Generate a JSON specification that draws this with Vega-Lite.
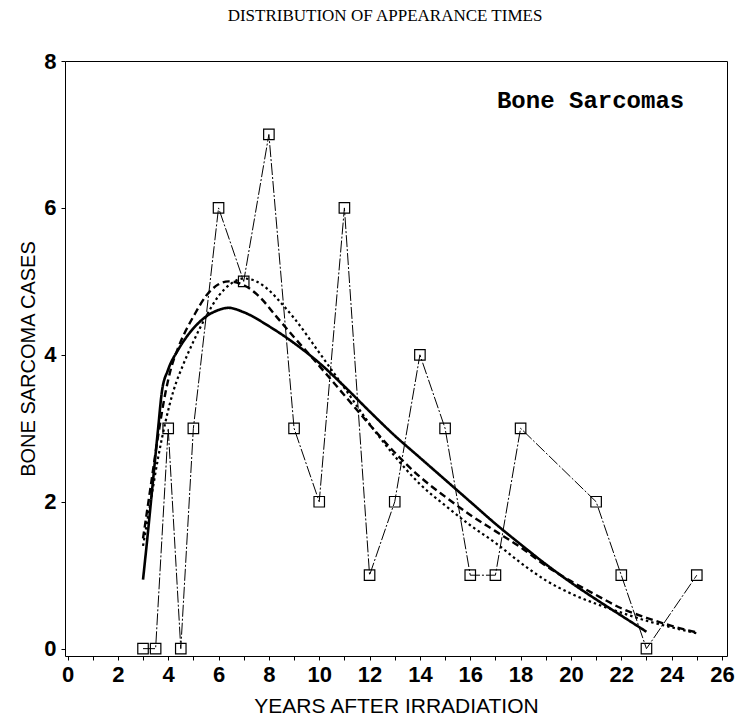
{
  "$schema": "https://vega.github.io/schema/vega-lite/v6.json",
  "width": 662,
  "height": 595,
  "autosize": {"type": "none"},
  "padding": {"left": 65, "top": 61, "right": 13, "bottom": 72},
  "background": "white",
  "title": {
    "text": "DISTRIBUTION OF APPEARANCE TIMES",
    "font": "Liberation Serif",
    "fontSize": 17,
    "fontWeight": "normal",
    "color": "black",
    "anchor": "middle",
    "dx": -11,
    "offset": 25
  },
  "config": {
    "view": {"stroke": "black", "strokeWidth": 1},
    "axis": {
      "domain": false,
      "grid": false,
      "tickColor": "black",
      "tickSize": 4,
      "labelColor": "black",
      "titleColor": "black",
      "labelFont": "Liberation Sans",
      "labelFontWeight": "bold",
      "labelFontSize": 22,
      "labelFlush": false,
      "labelOverlap": false,
      "titleFont": "Liberation Sans",
      "titleFontWeight": "normal",
      "titleFontSize": 21
    }
  },
  "datasets": {
    "observed": [
      {"year": 3, "cases": 0},
      {"year": 3.5, "cases": 0},
      {"year": 4, "cases": 3},
      {"year": 4.5, "cases": 0},
      {"year": 5, "cases": 3},
      {"year": 6, "cases": 6},
      {"year": 7, "cases": 5},
      {"year": 8, "cases": 7},
      {"year": 9, "cases": 3},
      {"year": 10, "cases": 2},
      {"year": 11, "cases": 6},
      {"year": 12, "cases": 1},
      {"year": 13, "cases": 2},
      {"year": 14, "cases": 4},
      {"year": 15, "cases": 3},
      {"year": 16, "cases": 1},
      {"year": 17, "cases": 1},
      {"year": 18, "cases": 3},
      {"year": 21, "cases": 2},
      {"year": 22, "cases": 1},
      {"year": 23, "cases": 0},
      {"year": 25, "cases": 1}
    ],
    "fits": [
      {"curve": "A", "year": 3.0, "value": 0.94},
      {"curve": "A", "year": 3.2, "value": 1.6},
      {"curve": "A", "year": 3.4, "value": 2.3},
      {"curve": "A", "year": 3.6, "value": 3.0},
      {"curve": "A", "year": 3.75, "value": 3.5},
      {"curve": "A", "year": 4.0, "value": 3.8},
      {"curve": "A", "year": 4.4, "value": 4.07},
      {"curve": "A", "year": 5.0, "value": 4.36},
      {"curve": "A", "year": 5.5, "value": 4.52},
      {"curve": "A", "year": 6.0, "value": 4.61},
      {"curve": "A", "year": 6.4, "value": 4.64},
      {"curve": "A", "year": 7.0, "value": 4.58},
      {"curve": "A", "year": 8.0, "value": 4.39},
      {"curve": "A", "year": 9.0, "value": 4.16},
      {"curve": "A", "year": 10.0, "value": 3.89},
      {"curve": "A", "year": 11.0, "value": 3.57},
      {"curve": "A", "year": 12.0, "value": 3.23},
      {"curve": "A", "year": 13.0, "value": 2.9},
      {"curve": "A", "year": 14.0, "value": 2.6},
      {"curve": "A", "year": 15.0, "value": 2.3},
      {"curve": "A", "year": 16.0, "value": 2.0},
      {"curve": "A", "year": 17.0, "value": 1.7},
      {"curve": "A", "year": 18.0, "value": 1.42},
      {"curve": "A", "year": 19.0, "value": 1.15},
      {"curve": "A", "year": 20.0, "value": 0.9},
      {"curve": "A", "year": 21.0, "value": 0.67},
      {"curve": "A", "year": 22.0, "value": 0.45},
      {"curve": "A", "year": 23.0, "value": 0.23},
      {"curve": "B", "year": 3.0, "value": 1.5},
      {"curve": "B", "year": 3.3, "value": 2.2},
      {"curve": "B", "year": 3.6, "value": 2.9},
      {"curve": "B", "year": 3.9, "value": 3.5},
      {"curve": "B", "year": 4.1, "value": 3.8},
      {"curve": "B", "year": 4.4, "value": 4.1},
      {"curve": "B", "year": 4.7, "value": 4.33},
      {"curve": "B", "year": 5.0, "value": 4.52},
      {"curve": "B", "year": 5.5, "value": 4.8},
      {"curve": "B", "year": 6.0, "value": 4.96},
      {"curve": "B", "year": 6.4, "value": 5.0},
      {"curve": "B", "year": 7.0, "value": 4.95},
      {"curve": "B", "year": 7.6, "value": 4.8},
      {"curve": "B", "year": 8.3, "value": 4.52},
      {"curve": "B", "year": 9.0, "value": 4.24},
      {"curve": "B", "year": 10.0, "value": 3.85},
      {"curve": "B", "year": 11.0, "value": 3.45},
      {"curve": "B", "year": 12.0, "value": 3.05},
      {"curve": "B", "year": 13.0, "value": 2.67},
      {"curve": "B", "year": 14.0, "value": 2.34},
      {"curve": "B", "year": 15.0, "value": 2.07},
      {"curve": "B", "year": 16.0, "value": 1.82},
      {"curve": "B", "year": 17.0, "value": 1.6},
      {"curve": "B", "year": 18.0, "value": 1.38},
      {"curve": "B", "year": 19.0, "value": 1.13},
      {"curve": "B", "year": 20.0, "value": 0.92},
      {"curve": "B", "year": 21.0, "value": 0.73},
      {"curve": "B", "year": 22.0, "value": 0.55},
      {"curve": "B", "year": 23.0, "value": 0.42},
      {"curve": "B", "year": 24.0, "value": 0.31},
      {"curve": "B", "year": 25.0, "value": 0.22},
      {"curve": "C", "year": 3.0, "value": 1.4},
      {"curve": "C", "year": 3.3, "value": 2.0},
      {"curve": "C", "year": 3.6, "value": 2.6},
      {"curve": "C", "year": 3.9, "value": 3.1},
      {"curve": "C", "year": 4.2, "value": 3.5},
      {"curve": "C", "year": 4.6, "value": 3.87},
      {"curve": "C", "year": 5.0, "value": 4.18},
      {"curve": "C", "year": 5.5, "value": 4.52},
      {"curve": "C", "year": 6.0, "value": 4.8},
      {"curve": "C", "year": 6.5, "value": 4.97},
      {"curve": "C", "year": 7.0, "value": 5.04},
      {"curve": "C", "year": 7.5, "value": 5.0},
      {"curve": "C", "year": 8.0, "value": 4.88},
      {"curve": "C", "year": 8.5, "value": 4.7},
      {"curve": "C", "year": 9.0, "value": 4.5},
      {"curve": "C", "year": 10.0, "value": 4.03},
      {"curve": "C", "year": 11.0, "value": 3.55},
      {"curve": "C", "year": 12.0, "value": 3.06},
      {"curve": "C", "year": 13.0, "value": 2.62},
      {"curve": "C", "year": 14.0, "value": 2.24},
      {"curve": "C", "year": 15.0, "value": 1.95},
      {"curve": "C", "year": 16.0, "value": 1.68},
      {"curve": "C", "year": 17.0, "value": 1.44},
      {"curve": "C", "year": 18.0, "value": 1.17},
      {"curve": "C", "year": 19.0, "value": 0.93},
      {"curve": "C", "year": 20.0, "value": 0.75},
      {"curve": "C", "year": 21.0, "value": 0.61},
      {"curve": "C", "year": 22.0, "value": 0.49},
      {"curve": "C", "year": 23.0, "value": 0.38},
      {"curve": "C", "year": 24.0, "value": 0.29},
      {"curve": "C", "year": 25.0, "value": 0.21}
    ],
    "caption": [
      {"year": 20.78, "cases": 7.45, "label": "Bone Sarcomas"}
    ]
  },
  "encoding": {
    "x": {
      "field": "year",
      "type": "quantitative",
      "scale": {"domain": [-0.1, 26.2], "nice": false, "zero": false},
      "axis": {
        "title": "YEARS AFTER IRRADIATION",
        "values": [0, 1, 2, 3, 4, 5, 6, 7, 8, 9, 10, 11, 12, 13, 14, 15, 16, 17, 18, 19, 20, 21, 22, 23, 24, 25, 26],
        "labelExpr": "datum.value % 2 === 0 ? datum.label : ''",
        "labelPadding": 4,
        "titlePadding": 10
      }
    },
    "y": {
      "field": "cases",
      "type": "quantitative",
      "scale": {"domain": [-0.1, 8], "nice": false, "zero": false},
      "axis": {
        "title": "BONE SARCOMA CASES",
        "values": [0, 2, 4, 6, 8],
        "labelPadding": 5,
        "titlePadding": 5,
        "titleFontSize": 20
      }
    }
  },
  "layer": [
    {
      "data": {"name": "fits"},
      "mark": {"type": "line", "interpolate": "monotone", "color": "black", "strokeCap": "butt"},
      "encoding": {
        "y": {"field": "value", "type": "quantitative"},
        "detail": {"field": "curve", "type": "nominal"},
        "strokeDash": {
          "field": "curve",
          "type": "nominal",
          "scale": {"domain": ["A", "B", "C"], "range": [[1, 0], [7, 4], [2.5, 3]]},
          "legend": null
        },
        "strokeWidth": {
          "field": "curve",
          "type": "nominal",
          "scale": {"domain": ["A", "B", "C"], "range": [2.6, 2.2, 2.2]},
          "legend": null
        }
      }
    },
    {
      "data": {"name": "observed"},
      "mark": {"type": "line", "color": "black", "strokeWidth": 1, "strokeDash": [12, 2, 2, 2]},
      "encoding": {}
    },
    {
      "data": {"name": "observed"},
      "mark": {"type": "point", "shape": "square", "size": 110, "filled": false, "color": "black", "strokeWidth": 1.2, "opacity": 1},
      "encoding": {}
    },
    {
      "data": {"name": "caption"},
      "mark": {"type": "text", "font": "Liberation Mono", "fontWeight": "bold", "fontSize": 24, "align": "center", "baseline": "middle", "color": "black"},
      "encoding": {"text": {"field": "label"}}
    }
  ]
}
